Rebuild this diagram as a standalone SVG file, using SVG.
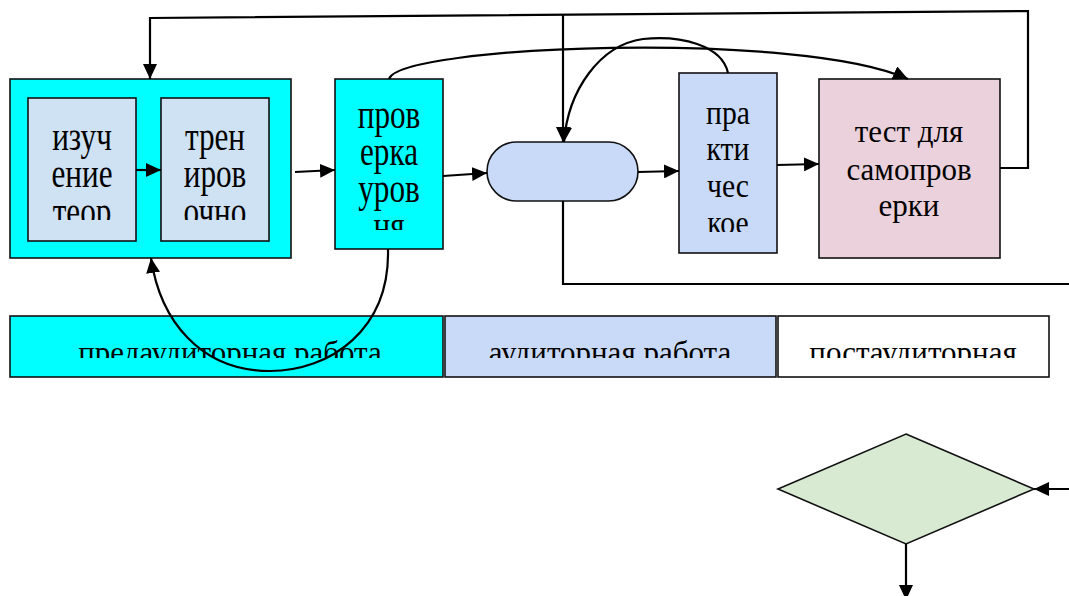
<svg xmlns="http://www.w3.org/2000/svg" width="1069" height="596" viewBox="0 0 1069 596">
<style>
.box{stroke:#111;stroke-width:1.6}
.cn{fill:none;stroke:#000;stroke-width:2.2}
.t{font-family:"Liberation Serif","Times New Roman",serif;fill:#000;text-anchor:middle}
</style>
<defs>
<marker id="ah" markerUnits="userSpaceOnUse" markerWidth="16" markerHeight="14" refX="15" refY="7" orient="auto">
<path d="M0,0 L15,7 L0,14 z" fill="#000"/>
</marker>
<clipPath id="c1"><rect x="28" y="98" width="108" height="122"/></clipPath>
<clipPath id="c2"><rect x="161" y="98" width="108" height="122"/></clipPath>
<clipPath id="c3"><rect x="335" y="79" width="108" height="151"/></clipPath>
<clipPath id="c4"><rect x="679" y="73" width="98" height="159"/></clipPath>
<clipPath id="cb"><rect x="0" y="316" width="1069" height="42"/></clipPath>
</defs>
<rect width="1069" height="596" fill="#fff"/>

<g id="band-pre">
<rect class="box" x="10" y="316" width="433" height="61" fill="#00ffff"/>
<text class="t" x="230" y="363" font-size="31" clip-path="url(#cb)">предаудиторная работа</text>
</g>
<g id="band-aud">
<rect class="box" x="445" y="316" width="331" height="61" fill="#c9daf8" stroke-width="1"/>
<text class="t" x="610" y="363" font-size="31" clip-path="url(#cb)">аудиторная работа</text>
</g>
<g id="band-post">
<rect class="box" x="778" y="316" width="271" height="61" fill="#fff" stroke-width="1"/>
<text class="t" x="913" y="363" font-size="31" clip-path="url(#cb)">постаудиторная</text>
</g>

<g id="outer">
<rect class="box" x="10" y="79" width="281" height="179" fill="#00ffff"/>
</g>
<g id="izuchenie">
<rect class="box" x="28" y="98" width="108" height="143" fill="#cfe2f3"/>
<g clip-path="url(#c1)">
<text class="t" font-size="40" transform="matrix(0.78,0,0,1,82,0)"><tspan x="0" y="150">изуч</tspan><tspan x="0" y="187">ение</tspan><tspan x="0" y="225">теор</tspan></text>
</g>
</g>
<g id="trenirovochnoe">
<rect class="box" x="161" y="98" width="108" height="143" fill="#cfe2f3"/>
<g clip-path="url(#c2)">
<text class="t" font-size="40" transform="matrix(0.78,0,0,1,215,0)"><tspan x="0" y="150">трен</tspan><tspan x="0" y="187">иров</tspan><tspan x="0" y="225">очно</tspan></text>
</g>
</g>
<g id="proverka">
<rect class="box" x="335" y="79" width="108" height="170" fill="#00ffff"/>
<g clip-path="url(#c3)">
<text class="t" font-size="40" transform="matrix(0.78,0,0,1,389,0)"><tspan x="0" y="128">пров</tspan><tspan x="0" y="165">ерка</tspan><tspan x="0" y="202">уров</tspan><tspan x="0" y="239">ня</tspan></text>
</g>
</g>
<g id="terminal">
<rect class="box" x="487" y="142" width="151" height="59" rx="29.5" fill="#c9daf8"/>
</g>
<g id="prakticheskoe">
<rect class="box" x="679" y="73" width="98" height="180" fill="#c9daf8"/>
<g clip-path="url(#c4)">
<text class="t" font-size="33" transform="matrix(0.9,0,0,1,728,0)"><tspan x="0" y="124">пра</tspan><tspan x="0" y="160">кти</tspan><tspan x="0" y="197">чес</tspan><tspan x="0" y="234">кое</tspan></text>
</g>
</g>
<g id="test">
<rect class="box" x="819" y="79" width="181" height="179" fill="#ead1dc"/>
<text class="t" font-size="31"><tspan x="909" y="142">тест для</tspan><tspan x="909" y="180">самопров</tspan><tspan x="909" y="216">ерки</tspan></text>
</g>
<g id="diamond">
<polygon class="box" points="906,434 1034,489 906,544 778,489" fill="#d9ead3"/>
</g>

<g id="connectors">
<path class="cn" d="M136,170 L161,170" marker-end="url(#ah)"/>
<path class="cn" d="M295,172 L335,170" marker-end="url(#ah)"/>
<path class="cn" d="M443,176 L487,173" marker-end="url(#ah)"/>
<path class="cn" d="M638,172 L679,171" marker-end="url(#ah)"/>
<path class="cn" d="M777,165 L819,164" marker-end="url(#ah)"/>
<path class="cn" d="M1000,168 L1028,168 L1028,11 L150,18 L150,79" marker-end="url(#ah)"/>
<path class="cn" d="M563,15 L563,142" marker-end="url(#ah)"/>
<path class="cn" d="M563,201 L563,284 L1069,284"/>
<path class="cn" d="M389,79 C400,45 800,30 908,79" marker-end="url(#ah)"/>
<path class="cn" d="M728,73 C722,45 680,35 643,39 C600,45 568,90 564,142" marker-end="url(#ah)"/>
<path class="cn" d="M388,249 C390,330 330,371 270,371 C200,371 160,320 151,258" marker-end="url(#ah)"/>
<path class="cn" d="M1069,489 L1034,489" marker-end="url(#ah)"/>
<path class="cn" d="M906,544 L906,600" marker-end="url(#ah)"/>
</g>
</svg>
